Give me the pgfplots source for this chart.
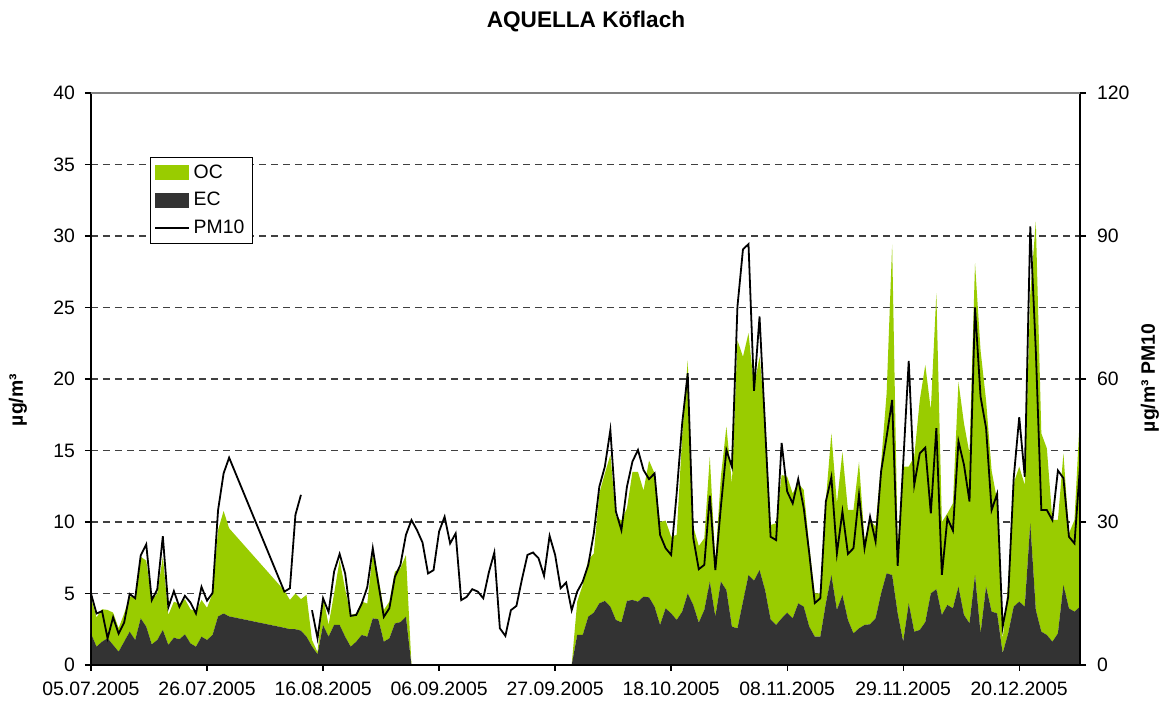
\documentclass[border=0pt]{standalone}
\usepackage{pgfplots}
\pgfplotsset{compat=1.18}
\usepackage{pgfplotstable}
\usepackage{fontspec}
\setmainfont{Liberation Sans}
\definecolor{ocgreen}{RGB}{153,204,0}
\definecolor{ecdark}{RGB}{51,51,51}
\newcommand\tfs{\fontsize{9.7}{11.6}\selectfont}
\pgfplotstableread{
day ec oc pm
0 2.20 2.50 15.0
1 1.28 2.05 10.8
2 1.63 2.27 11.3
3 1.87 1.98 5.6
4 1.40 2.26 10.0
5 0.93 1.64 6.6
6 1.63 1.97 8.9
7 2.33 2.45 14.9
8 1.75 3.03 14.0
9 3.26 4.31 23.0
10 2.68 4.62 25.3
11 1.44 3.11 13.6
12 1.75 3.25 15.9
13 2.45 5.12 27.0
14 1.40 2.10 12.1
15 1.91 2.52 15.5
16 1.80 2.47 12.2
17 2.14 2.46 14.5
18 1.51 2.39 13.1
19 1.28 2.45 10.8
20 1.98 2.57 16.4
21 1.75 2.25 13.5
22 2.10 2.90 15.1
23 3.40 6.04 32.5
24 3.60 7.17 40.2
25 3.40 6.16 43.5
35 2.60 2.60 15.4
36 2.50 2.05 16.1
37 2.50 2.50 31.5
38 2.40 2.20 35.7
39 1.98 2.92 nan
40 1.30 0.45 11.5
41 0.75 0.15 5.6
42 2.80 2.00 14.0
43 1.98 0.82 11.1
44 2.80 2.20 19.6
45 2.80 4.54 23.3
46 1.98 3.32 19.2
47 1.28 2.22 10.3
48 1.63 1.97 10.5
49 2.10 2.33 12.9
50 1.98 2.32 16.3
51 3.26 4.54 24.5
52 3.20 2.98 17.1
53 1.63 2.22 10.1
54 1.86 2.57 11.9
55 2.90 3.63 18.5
56 3.00 3.76 21.0
57 3.38 4.31 27.3
58 0 0 30.4
59 0 0 28.3
60 0 0 25.7
61 0 0 19.2
62 0 0 19.9
63 0 0 28.0
64 0 0 31.1
65 0 0 25.5
66 0 0 27.6
67 0 0 13.6
68 0 0 14.3
69 0 0 15.9
70 0 0 15.4
71 0 0 14.0
72 0 0 19.4
73 0 0 23.6
74 0 0 7.7
75 0 0 6.1
76 0 0 11.5
77 0 0 12.4
78 0 0 18.0
79 0 0 23.1
80 0 0 23.6
81 0 0 22.4
82 0 0 18.7
83 0 0 27.1
84 0 0 23.1
85 0 0 16.1
86 0 0 17.3
87 0 0 11.5
88 2.10 2.33 15.4
89 2.10 3.50 17.5
90 3.38 3.96 21.0
91 3.66 4.14 27.6
92 4.31 7.69 37.4
93 4.48 8.92 41.6
94 4.08 10.62 49.3
95 3.15 7.25 32.2
96 2.98 7.12 28.3
97 4.48 6.48 37.4
98 4.55 8.95 42.7
99 4.43 9.07 45.1
100 4.78 7.42 40.9
101 4.73 9.57 39.0
102 4.08 9.32 40.2
103 2.80 7.20 27.3
104 3.96 6.14 24.5
105 3.61 5.36 23.1
106 3.15 5.95 36.0
107 3.73 12.27 50.7
108 5.00 16.30 61.2
109 4.20 5.50 26.7
110 2.96 5.36 20.1
111 3.85 5.01 21.0
112 5.83 8.74 35.5
113 3.38 3.84 19.9
114 5.83 7.34 33.2
115 5.24 11.43 45.1
116 2.68 10.02 41.6
117 2.56 20.14 75.2
118 4.43 17.13 87.2
119 6.29 16.91 88.3
120 5.90 13.56 57.5
121 6.64 14.92 73.1
122 5.24 12.12 50.0
123 3.19 6.60 26.9
124 2.80 7.11 26.2
125 3.26 10.03 46.6
126 3.66 9.51 36.4
127 3.26 8.74 33.9
128 4.31 8.39 39.0
129 4.08 8.16 32.9
130 2.68 5.62 23.4
131 1.98 3.02 13.0
132 1.98 3.02 14.0
133 4.31 7.19 34.3
134 6.29 9.91 39.4
135 3.85 7.45 23.4
136 4.90 10.00 32.2
137 3.15 7.69 23.3
138 2.21 8.63 24.5
139 2.56 11.64 35.7
140 2.80 5.94 24.5
141 2.85 7.29 31.1
142 3.26 6.41 25.9
143 5.01 9.09 40.6
144 6.41 12.59 47.9
145 6.29 23.11 55.6
146 3.61 4.69 20.8
147 1.63 12.24 42.3
148 4.31 9.56 63.8
149 2.33 12.24 37.8
150 2.45 16.08 44.4
151 3.00 17.98 45.6
152 5.01 12.82 31.8
153 5.30 20.70 49.7
154 3.50 6.50 18.9
155 4.20 6.40 30.8
156 3.96 7.34 28.2
157 5.48 14.32 46.9
158 3.50 13.40 42.0
159 2.91 11.89 34.3
160 6.29 21.81 75.0
161 2.21 19.79 56.3
162 5.48 13.02 49.7
163 3.73 9.87 32.5
164 3.61 7.89 35.9
165 0.82 0.93 8.0
166 2.21 3.50 14.3
167 4.08 8.62 39.2
168 4.43 9.44 52.0
169 4.08 8.52 39.5
170 9.91 16.09 92.0
171 3.85 27.15 66.0
172 2.33 13.87 32.5
173 2.10 13.05 32.5
174 1.63 8.51 30.4
175 2.21 7.93 40.8
176 5.59 9.21 39.2
177 3.96 5.24 26.9
178 3.73 6.41 25.5
179 4.08 13.52 41.6
}\data
\begin{document}
\begin{tikzpicture}
\useasboundingbox (-45.5pt,-20.5pt) rectangle (538.5pt,332.5pt);
\pgfplotsset{common/.style={width=494.5pt,height=286pt,scale only axis,
  at={(0pt,0pt)},anchor=south west,xmin=0,xmax=179,
  /pgf/number format/assume math mode=true,
  tick label style={font=\tfs},
  axis line style={line width=0.65pt},
  every tick/.style={line width=0.65pt,black},
  tick align=outside, major tick length=3pt}}
\begin{axis}[common, stack plots=y, ymin=0, ymax=40, ytick={0,5,...,40},
  axis x line*=bottom, axis y line*=left,
  xtick={0,21,...,168},
  xticklabels={05.07.2005,26.07.2005,16.08.2005,06.09.2005,27.09.2005,18.10.2005,08.11.2005,29.11.2005,20.12.2005},
  xticklabel style={yshift=-2pt},
  yticklabel style={xshift=-1.5pt},
  ymajorgrids, major grid style={dash pattern=on 3.5pt off 2.5pt, black!75, line width=0.6pt}]
\addplot[fill=ecdark, draw=none] table[x=day,y=ec]{\data} \closedcycle;
\addplot[fill=ocgreen, draw=none] table[x=day,y=oc]{\data} \closedcycle;
\end{axis}
\begin{axis}[common, ymin=0, ymax=120, ytick={0,30,...,120},
  axis y line*=right, axis x line*=bottom, xtick=\empty,
  yticklabel style={xshift=2pt},
  unbounded coords=jump,
  legend style={at={(0.0597,0.888)}, anchor=north west, draw=black, line width=0.5pt,
    fill=white, font=\tfs, inner xsep=2pt, inner ysep=1.5pt, row sep=1.5pt},
  legend cell align=left]
\addlegendimage{legend image code/.code={\fill[ocgreen] (0pt,-3.5pt) rectangle (16.5pt,3.5pt);}}
\addlegendentry{OC}
\addlegendimage{legend image code/.code={\fill[ecdark] (0pt,-3.5pt) rectangle (16.5pt,3.5pt);}}
\addlegendentry{EC}
\addplot[black, line width=0.9pt, legend image code/.code={\draw[black,line width=0.6pt] (0pt,0pt) -- (17pt,0pt);}] table[x=day,y=pm]{\data};
\addlegendentry{PM10}
\draw[line width=0.65pt] (rel axis cs:0,0) -- (rel axis cs:0,1);
\draw[gray,line width=0.65pt] (rel axis cs:0,1) -- (rel axis cs:1,1);
\end{axis}
\node[font=\bfseries\fontsize{11.3}{13.5}\selectfont] at (247.5pt,321.5pt) {AQUELLA Köflach};
\node[rotate=90,font=\bfseries\tfs] at (-36.5pt,132.5pt) {µg/m³};
\node[rotate=90,font=\bfseries\tfs] at (529.5pt,143.5pt) {µg/m³ PM10};
\end{tikzpicture}
\end{document}
